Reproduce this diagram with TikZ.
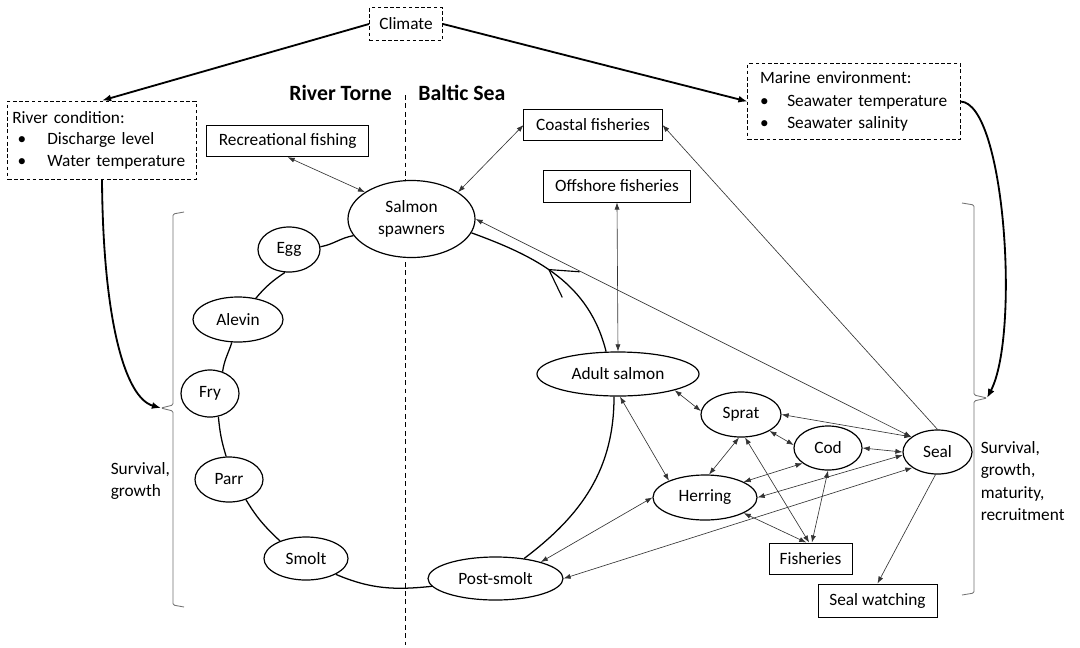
\documentclass[tikz,border=0pt]{standalone}
\usepackage{fontspec}
\setmainfont{Carlito}
\usetikzlibrary{shapes.geometric,arrows.meta,decorations.markings}
\begin{document}
\begin{tikzpicture}[x=0.025cm,y=-0.025cm,
  every node/.style={font=\fontsize{12.3}{16}\selectfont, inner sep=0pt},
  dims/.style 2 args={minimum width=#1*0.7113pt, minimum height=#2*0.7113pt},
  plainbox/.style={draw, line width=0.7pt, rectangle},
  dbox/.style={draw, line width=0.7pt, dash pattern=on 2.6pt off 1.8pt, rectangle},
  oval/.style={draw, line width=0.85pt, ellipse},
  link/.style={line width=0.45pt, draw=black!80,
    {Latex[length=5pt,width=3.6pt]}-{Latex[length=5pt,width=3.6pt]}},
  onelink/.style={line width=0.45pt, draw=black!80, -{Latex[length=5pt,width=3.6pt]}},
  driver/.style={line width=1.3pt, -{Latex[length=6.5pt,width=5pt]}},
  lifeline/.style={line width=0.9pt},
  bracket/.style={line width=0.6pt, draw=black!55, rounded corners=1pt},
  divider/.style={line width=0.7pt, dash pattern=on 3.5pt off 2.5pt},
  heading/.style={font=\fontsize{15.5}{18}\bfseries\selectfont}
]
\fill[white] (0,0) rectangle (1080,647);
\useasboundingbox (0,0) rectangle (1080,647);

% drivers
\node[dbox, dims={73}{33}] (climate) at (406,24) {Climate};
\node[dbox, dims={188}{78}, text width=127.5pt, inner xsep=3.1pt, align=left,
      font=\fontsize{12.3}{15.3}\selectfont] (river) at (102,140)
  {River condition:\\
   \hspace*{3.8pt}\makebox[21.1pt][l]{\textbullet}Discharge level\\
   \hspace*{3.8pt}\makebox[21.1pt][l]{\textbullet}Water temperature};
\node[dbox, dims={212}{76}, text width=133.7pt, inner xsep=8.5pt, align=left,
      font=\fontsize{12.3}{16.3}\selectfont] (marine) at (854,101.5)
  {Marine environment:\\
   \makebox[19.4pt][l]{\textbullet}Seawater temperature\\
   \makebox[19.4pt][l]{\textbullet}Seawater salinity};

% region headings and divider
\node[heading, anchor=base east] (torne) at (392,100) {River Torne};
\node[heading, anchor=base west] (baltic) at (418,100) {Baltic Sea};
\draw[divider] (405,95) -- (405,181);
\draw[divider] (405,262) -- (405,645);

% human activities
\node[plainbox, dims={161.5}{31}] (rec) at (287.7,141.2) {Recreational fishing};
\node[plainbox, dims={138}{31}] (coastal) at (593,125) {Coastal fisheries};
\node[plainbox, dims={147}{32}] (offshore) at (617,186) {Offshore fisheries};
\node[plainbox, dims={83}{31}] (fish) at (810.5,558.5) {Fisheries};
\node[plainbox, dims={119}{33}] (sealw) at (877.5,600.5) {Seal watching};

% salmon life stages and the food web
\node[oval, dims={127}{77}, align=center] (spawn) at (411.5,219) {Salmon\\spawners};
\node[oval, dims={62}{45}] (egg) at (289,249.5) {Egg};
\node[oval, dims={90}{45}] (alevin) at (238,319.5) {Alevin};
\node[oval, dims={58}{47}] (fry) at (210,393.5) {Fry};
\node[oval, dims={68}{45}] (parr) at (229,479.5) {Parr};
\node[oval, dims={84}{43}] (smolt) at (306,558.5) {Smolt};
\node[oval, dims={135}{43}] (post) at (495.5,578.5) {Post-smolt};
\node[oval, dims={162}{44}] (adult) at (618,374) {Adult salmon};
\node[oval, dims={80}{45}] (sprat) at (741,414.5) {Sprat};
\node[oval, dims={68}{44}] (cod) at (828,448) {Cod};
\node[oval, dims={104}{45}] (herring) at (705,497.5) {Herring};
\node[oval, dims={69}{44}] (seal) at (937.5,452) {Seal};

% effect labels
\node[anchor=west, align=left] (lsurv) at (110.5,481) {Survival,\\growth};
\node[anchor=west, align=left] (rsurv) at (980.5,481) {Survival,\\growth,\\maturity,\\recruitment};

% brackets
\coordinate (lbr) at (161,408);
\coordinate (rbr) at (987,398);
\draw[bracket] (184,212) -- (173,214) -- (173,405) -- (lbr) -- (173,411) -- (173,605) -- (184,607);
\draw[bracket] (962,203) -- (974,205) -- (974,395) -- (rbr) -- (974,401) -- (974,593) -- (962,595);

% climate effects
\draw[driver] (climate.west) -- (river.north);
\draw[driver] (climate.east) -- (marine.west);
\draw[driver] (river.south) .. controls (103,320) and (125,398) .. (lbr);
\draw[driver] (marine.east) .. controls (1005,103) and (1020,335) .. (rbr);

% life cycle
\draw[lifeline] (spawn.196) to[out=190,in=10] (egg.5);
\draw[lifeline] (egg.-100) to[out=214,in=50] (alevin.50);
\draw[lifeline] (alevin.-105) to[out=252,in=82] (fry.60);
\draw[lifeline] (fry.-70) to[out=275,in=107] (parr.97);
\draw[lifeline] (parr.-50) to[out=301,in=137] (smolt.146);
\draw[lifeline] (smolt.-28) to[out=337,in=186] (post.187);
\draw[lifeline] (post.35) to[out=37,in=270] (adult.-100);
\draw[lifeline, postaction={decorate}, decoration={markings,
    mark=at position 0.55 with {\arrow{Straight Barb[length=19pt,width=22pt,line width=0.8pt]}}}]
  (adult.118) to[out=104,in=-20] (spawn.-13);

% interactions
\draw[link] (rec.south) -- (spawn.150);
\draw[link] (coastal.west) -- (spawn.30);
\draw[link] (offshore.south) -- (adult.north);
\draw[onelink] (seal.north) -- (coastal.east);
\draw[link] (spawn.east) -- (seal.150);
\draw[link] (sprat.east) -- (seal.150);
\draw[link] (adult.-16) -- (sprat.175);
\draw[link] (adult.-85) -- (herring.155);
\draw[link] (sprat.-30) -- (cod.175);
\draw[link] (cod.east) -- (seal.west);
\draw[link] (sprat.-95) -- (herring.80);
\draw[link] (sprat.-80) -- ([xshift=-1pt]fish.north);
\draw[link] (cod.south) -- ([xshift=1pt]fish.north);
\draw[link] (herring.-22) -- ([xshift=-3pt]fish.north);
\draw[link] (cod.211) -- (herring.22);
\draw[link] (seal.185) -- (herring.east);
\draw[link] (seal.212) -- (post.east);
\draw[link] (herring.west) -- (post.20);
\draw[onelink] (seal.-95) -- (sealw.north);
\end{tikzpicture}
\end{document}
